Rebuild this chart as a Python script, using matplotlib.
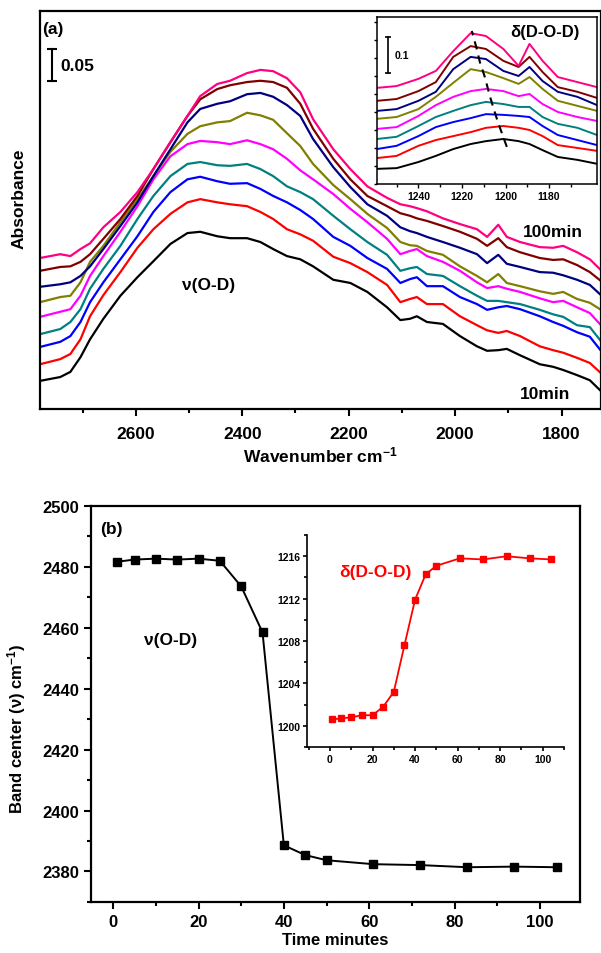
import matplotlib
matplotlib.use('Agg')
import matplotlib.pyplot as plt
from matplotlib.ticker import MultipleLocator, FixedLocator
from matplotlib.transforms import blended_transform_factory

plt.rcParams['font.family'] = ['Liberation Sans', 'DejaVu Sans']
plt.rcParams['font.weight'] = 'bold'
plt.rcParams['axes.labelweight'] = 'bold'
plt.rcParams['mathtext.fontset'] = 'custom'
plt.rcParams['mathtext.rm'] = 'Liberation Sans:bold'
plt.rcParams['mathtext.bf'] = 'Liberation Sans:bold'
plt.rcParams['mathtext.default'] = 'rm'

# ---- panel (a): O-D stretching band, spectra stacked from 10 min (abs_1) to 100 min (abs_9)
wavenumber = [2780, 2742, 2723, 2704, 2686, 2661, 2629, 2597, 2567, 2535, 2503,
              2479, 2447, 2423, 2391, 2366, 2342, 2316, 2291, 2267, 2229, 2197,
              2165, 2128, 2103, 2085, 2072, 2053, 2023, 1991, 1959, 1940, 1919,
              1903, 1878, 1841, 1816, 1797, 1771, 1747, 1726]

abs_1 = [.044, .050, .058, .081, .109, .141, .177, .206, .231, .258, .275, .277, .270, .267,
         .267, .261, .250, .239, .234, .223, .202, .197, .183, .159, .139, .141, .145, .136,
         .133, .114, .098, .091, .092, .094, .084, .070, .066, .061, .053, .045, .028]
abs_2 = [.070, .078, .086, .109, .145, .178, .214, .252, .281, .305, .323, .328, .323, .320,
         .317, .308, .297, .281, .273, .263, .238, .228, .214, .194, .167, .172, .175, .164,
         .164, .145, .131, .123, .119, .122, .114, .098, .092, .088, .080, .072, .056]
abs_3 = [.097, .105, .114, .136, .167, .198, .234, .270, .308, .339, .359, .363, .356, .352,
         .353, .344, .333, .323, .311, .297, .269, .255, .236, .219, .197, .203, .206, .192,
         .192, .175, .164, .155, .159, .161, .156, .145, .136, .130, .120, .113, .091]
abs_4 = [.117, .125, .136, .156, .188, .219, .255, .297, .333, .364, .383, .386, .381, .380,
         .383, .375, .364, .348, .339, .328, .302, .281, .261, .241, .216, .220, .222, .211,
         .208, .192, .177, .169, .169, .167, .164, .155, .148, .144, .131, .128, .106]
abs_5 = [.144, .152, .156, .177, .208, .239, .277, .317, .359, .395, .414, .419, .417, .414,
         .420, .414, .406, .391, .373, .359, .336, .313, .292, .266, .242, .247, .250, .239,
         .230, .216, .198, .189, .192, .188, .183, .173, .167, .169, .159, .150, .131]
abs_6 = [.167, .175, .177, .198, .230, .255, .292, .328, .364, .402, .430, .442, .448, .450,
         .463, .459, .452, .431, .411, .383, .350, .328, .305, .283, .261, .256, .255, .247,
         .241, .223, .208, .198, .211, .197, .192, .184, .180, .183, .172, .166, .155]
abs_7 = [.191, .195, .198, .208, .223, .250, .286, .323, .364, .406, .448, .469, .477, .481,
         .492, .494, .488, .475, .458, .422, .378, .347, .320, .302, .284, .278, .275, .269,
         .261, .252, .242, .228, .241, .227, .222, .214, .213, .209, .202, .194, .178]
abs_8 = [.216, .222, .223, .230, .242, .266, .297, .333, .375, .417, .458, .484, .500, .506,
         .511, .513, .511, .502, .477, .438, .391, .359, .333, .317, .306, .302, .298, .294,
         .286, .277, .266, .255, .267, .253, .245, .236, .233, .234, .225, .214, .200]
abs_9 = [.236, .242, .239, .250, .259, .284, .308, .339, .375, .417, .458, .489, .508, .513,
         .525, .530, .528, .517, .495, .453, .406, .375, .348, .330, .320, .317, .314, .309,
         .298, .289, .281, .269, .288, .269, .261, .253, .252, .255, .245, .234, .217]

# inset of (a): D-O-D bending band
inset_wn = [1259, 1250, 1240, 1232, 1224, 1216, 1209, 1201, 1194, 1189, 1183, 1176, 1167, 1158]
ins_1 = [.042, .044, .061, .078, .097, .111, .119, .125, .119, .111, .094, .075, .067, .056]
ins_2 = [.072, .078, .106, .122, .133, .144, .156, .161, .156, .150, .133, .108, .100, .092]
ins_3 = [.097, .106, .133, .158, .172, .183, .194, .192, .189, .186, .161, .136, .122, .108]
ins_4 = [.125, .131, .161, .186, .203, .219, .228, .222, .214, .214, .186, .167, .156, .136]
ins_5 = [.153, .158, .189, .219, .242, .258, .264, .258, .244, .250, .222, .200, .186, .175]
ins_6 = [.181, .186, .208, .242, .281, .319, .311, .294, .278, .297, .264, .231, .217, .203]
ins_7 = [.203, .208, .231, .256, .319, .353, .347, .314, .300, .325, .286, .256, .242, .219]
ins_8 = [.231, .236, .258, .283, .353, .383, .375, .342, .325, .353, .311, .269, .256, .239]
ins_9 = [.267, .272, .292, .314, .369, .419, .411, .375, .328, .389, .342, .297, .283, .269]
# peak maxima traced by the dashed guide line
peak_wn = [1199.4, 1201.2, 1203.5, 1205.4, 1207.2, 1209.5, 1211.8, 1213.2, 1215.5]
peak_abs = [.103, .133, .172, .208, .244, .297, .339, .375, .425]

colors = ['#000000', '#ff0000', '#0000ff', '#008080', '#ff00ff',
          '#808000', '#000080', '#800000', '#ff0080']

# ---- panel (b): band centres vs time
time_min = [1, 5, 10, 15, 20, 25, 30, 35, 40, 45, 50, 61, 72, 83, 94, 104]
od_center = [2481.7, 2482.4, 2482.7, 2482.4, 2482.7, 2482.0, 2473.6, 2458.5,
             2388.6, 2385.4, 2383.7, 2382.4, 2382.1, 2381.4, 2381.6, 2381.4]
dod_center = [1200.6, 1200.7, 1200.8, 1201.0, 1201.0, 1201.8, 1203.2, 1207.6,
              1211.9, 1214.3, 1215.1, 1215.8, 1215.7, 1216.0, 1215.8, 1215.7]

fig = plt.figure(figsize=(6.01, 9.54), dpi=100)

# ----------------------------------------------------------- (a)
ax1 = fig.add_axes([0.0666, 0.5702, 0.9334, 0.4172])
spectra = [abs_1, abs_2, abs_3, abs_4, abs_5, abs_6, abs_7, abs_8, abs_9]
for s, c in zip(spectra, colors):
    ax1.plot(wavenumber, s, color=c, lw=1.6, solid_joinstyle='round')
ax1.set_xlim(2780, 1726)
ax1.set_ylim(0, 0.622)
ax1.set_yticks([])
ax1.xaxis.set_major_locator(MultipleLocator(200))
ax1.xaxis.set_minor_locator(MultipleLocator(100))
ax1.tick_params(axis='x', which='major', direction='out', length=5, width=1.5, labelsize=12.5, pad=7)
ax1.tick_params(axis='x', which='minor', direction='out', length=3, width=1.5)
for sp in ax1.spines.values():
    sp.set_linewidth(1.6)
ax1.set_xlabel('Wavenumber cm$^{-1}$', fontsize=12.5, labelpad=3)
ax1.set_ylabel('Absorbance', fontsize=12.5)
ax1.yaxis.set_label_coords(-0.024, 0.53)

ax1.text(0.004, 0.955, '(a)', transform=ax1.transAxes, fontsize=12.5, ha='left', va='center')
ax1.text(0.30, 0.312, 'ν(O-D)', transform=ax1.transAxes, fontsize=12.5, ha='center', va='center')
ax1.text(0.914, 0.447, '100min', transform=ax1.transAxes, fontsize=12.5, ha='center', va='center')
ax1.text(0.900, 0.038, '10min', transform=ax1.transAxes, fontsize=12.5, ha='center', va='center')
# 0.05 absorbance scale bar
tr = blended_transform_factory(ax1.transAxes, ax1.transData)
ax1.plot([0.0214, 0.0214], [0.5125, 0.5625], transform=tr, color='k', lw=1.5,
         marker='_', ms=7, mew=1.5)
ax1.text(0.036, 0.5375, '0.05', transform=tr, fontsize=12.5, ha='left', va='center')

# inset of (a)
ins1 = fig.add_axes([0.6273, 0.8061, 0.3661, 0.1751])
ins_curves = [ins_1, ins_2, ins_3, ins_4, ins_5, ins_6, ins_7, ins_8, ins_9]
for s, c in zip(ins_curves, colors):
    ins1.plot(inset_wn, s, color=c, lw=1.4, solid_joinstyle='round')
ins1.plot(peak_wn, peak_abs, color='k', lw=1.5, ls=(0, (4, 3)))
ins1.set_xlim(1259, 1158)
ins1.set_ylim(0, 0.464)
ins1.xaxis.set_major_locator(FixedLocator([1240, 1220, 1200, 1180]))
ins1.xaxis.set_minor_locator(FixedLocator([1250, 1230, 1210, 1190, 1170]))
ins1.yaxis.set_major_locator(MultipleLocator(0.05))
ins1.set_yticklabels([])
ins1.tick_params(axis='x', which='major', direction='out', length=3, width=1, labelsize=7.5, pad=2)
ins1.tick_params(axis='x', which='minor', direction='out', length=2, width=1)
ins1.tick_params(axis='y', which='major', direction='out', length=2, width=1)
for sp in ins1.spines.values():
    sp.set_linewidth(1.1)
ins1.text(0.764, 0.91, 'δ(D-O-D)', transform=ins1.transAxes, fontsize=12, ha='center', va='center')
tr2 = blended_transform_factory(ins1.transAxes, ins1.transData)
ins1.plot([0.05, 0.05], [0.308, 0.408], transform=tr2, color='k', lw=1.2,
          marker='_', ms=5, mew=1.2)
ins1.text(0.082, 0.358, '0.1', transform=tr2, fontsize=7.5, ha='left', va='center')

# ----------------------------------------------------------- (b)
ax2 = fig.add_axes([0.1514, 0.0535, 0.8136, 0.4151])
ax2.plot(time_min, od_center, color='k', lw=1.4, marker='s', ms=6)
ax2.set_xlim(-5.2, 109.4)
ax2.set_ylim(2370, 2500)
ax2.xaxis.set_major_locator(MultipleLocator(20))
ax2.xaxis.set_minor_locator(MultipleLocator(10))
ax2.yaxis.set_major_locator(MultipleLocator(20))
ax2.yaxis.set_minor_locator(MultipleLocator(10))
ax2.tick_params(which='major', direction='out', length=5, width=1.5, labelsize=12)
ax2.tick_params(which='minor', direction='out', length=3, width=1.5)
for sp in ax2.spines.values():
    sp.set_linewidth(1.6)
ax2.set_xlabel('Time minutes', fontsize=12, labelpad=2)
ax2.set_ylabel('Band center (ν) cm$^{-1}$)', fontsize=12)
ax2.yaxis.set_label_coords(-0.128, 0.44)
ax2.text(0.018, 0.942, '(b)', transform=ax2.transAxes, fontsize=12.5, ha='left', va='center')
ax2.text(0.162, 0.662, 'ν(O-D)', transform=ax2.transAxes, fontsize=12.5, ha='center', va='center')

ins2 = fig.add_axes([0.5108, 0.2159, 0.4276, 0.2222])
ins2.patch.set_alpha(0)
ins2.plot(time_min, dod_center, color='#ff0000', lw=1.3, marker='s', ms=4)
ins2.set_xlim(-10.8, 110)
ins2.set_ylim(1198, 1218)
ins2.spines['top'].set_visible(False)
ins2.spines['right'].set_visible(False)
for sp in ['left', 'bottom']:
    ins2.spines[sp].set_linewidth(1.2)
ins2.xaxis.set_major_locator(MultipleLocator(20))
ins2.xaxis.set_minor_locator(MultipleLocator(10))
ins2.yaxis.set_major_locator(MultipleLocator(4))
ins2.yaxis.set_minor_locator(MultipleLocator(2))
ins2.tick_params(which='major', direction='out', length=3, width=1.2, labelsize=7.5, pad=2)
ins2.tick_params(which='minor', direction='out', length=2, width=1.2)
ins2.text(0.268, 0.83, 'δ(D-O-D)', transform=ins2.transAxes, fontsize=12.5,
          color='#ff0000', ha='center', va='center')

fig.savefig('out.png', dpi=100)
